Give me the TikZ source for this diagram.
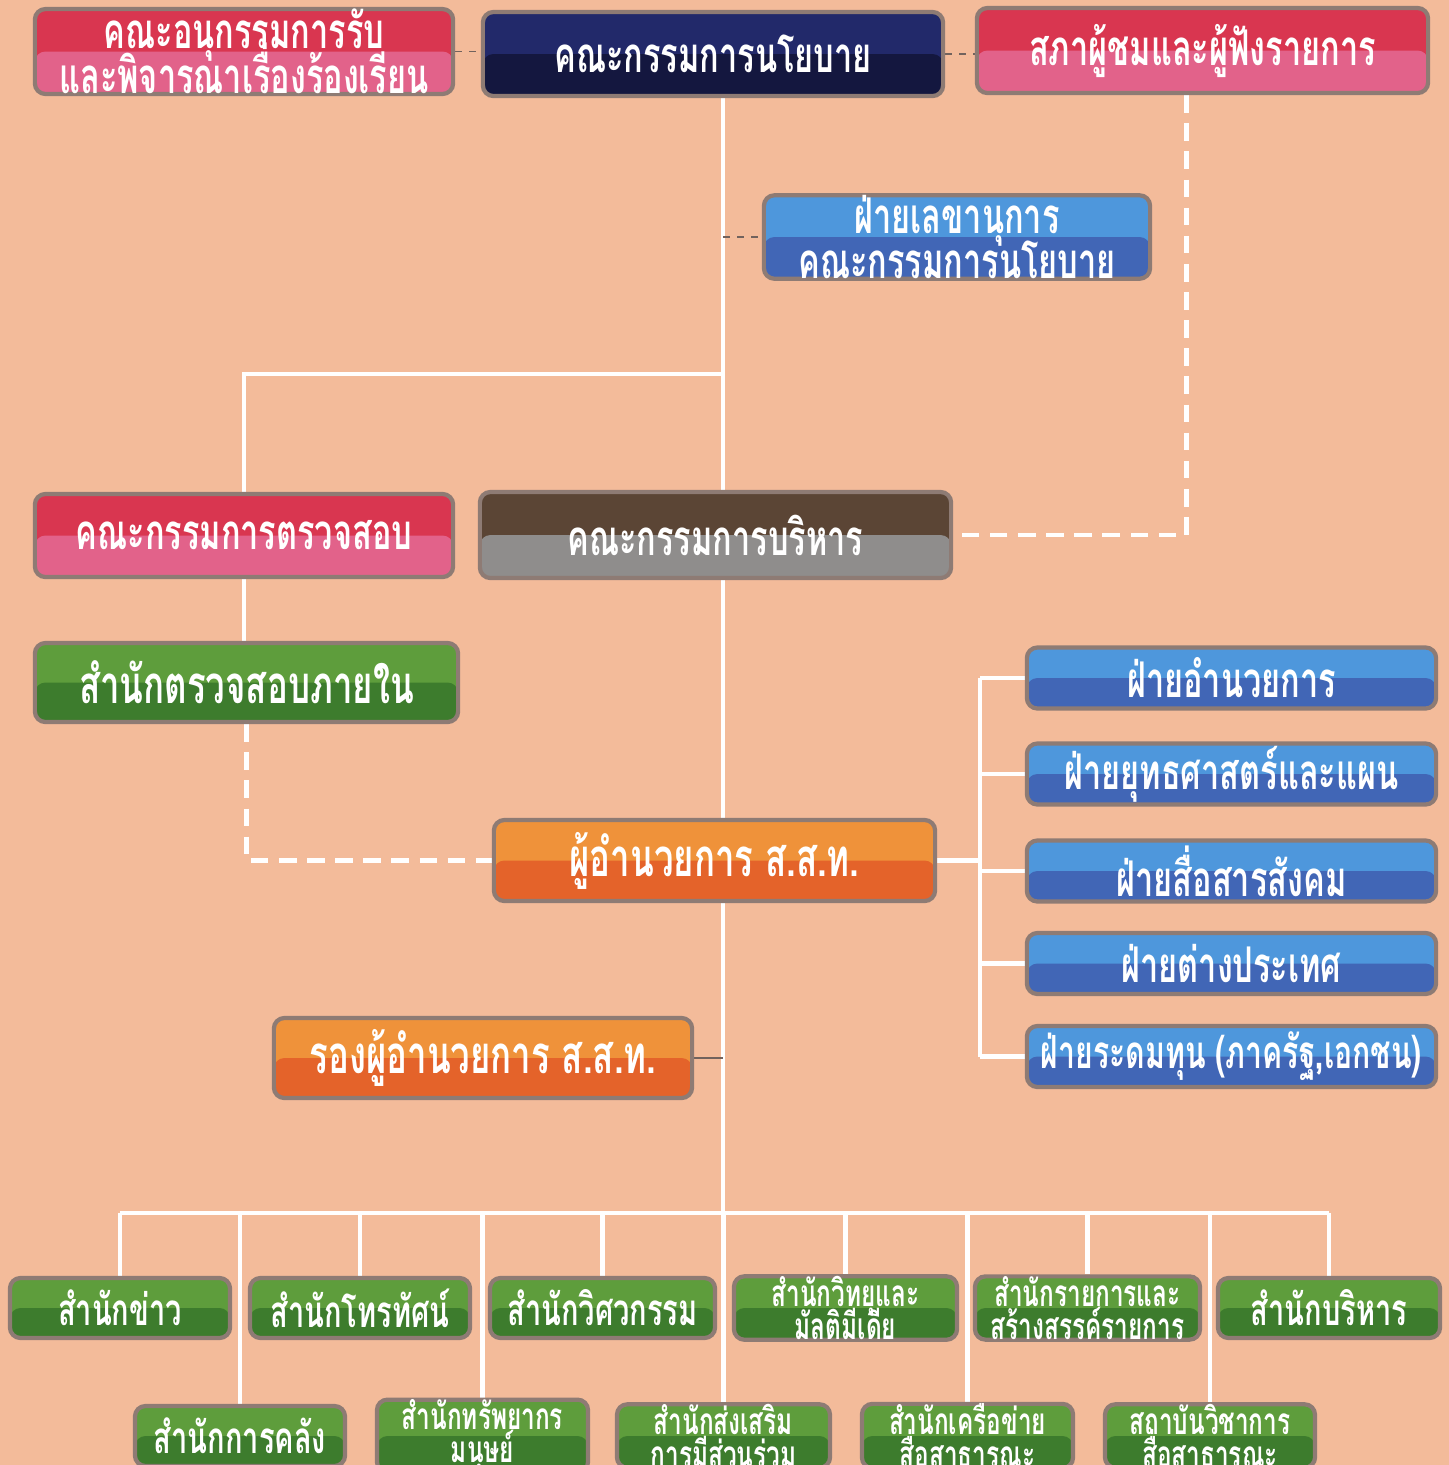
\documentclass[tikz,border=0pt]{standalone}
\usepackage{fontspec}
\newfontfamily\thaifont[Script=Thai, FakeStretch=0.66]{Loma}
\usetikzlibrary{backgrounds}
\setlength{\lineskiplimit}{-30pt}

\definecolor{fondo}{HTML}{F3BB9A}
\definecolor{rojoA}{HTML}{D93650}
\definecolor{rojoB}{HTML}{E2628A}
\definecolor{marinoA}{HTML}{22296A}
\definecolor{marinoB}{HTML}{14173F}
\definecolor{azulA}{HTML}{4E97DC}
\definecolor{azulB}{HTML}{4166B6}
\definecolor{cafeA}{HTML}{5B4535}
\definecolor{grisB}{HTML}{8F8D8C}
\definecolor{verdeA}{HTML}{5E9D3C}
\definecolor{verdeB}{HTML}{3D7C2D}
\definecolor{naranjaA}{HTML}{EF923A}
\definecolor{naranjaB}{HTML}{E4632A}
\definecolor{borde}{HTML}{8E7B74}

\tikzset{
  unidad/.style 2 args={draw=borde, line width=1.2pt, rounded corners=3pt, fill=#1,
    path picture={\fill[#2] (path picture bounding box.west) rectangle (path picture bounding box.south east);},
    text=white, align=center, inner sep=0pt, font=\thaifont\bfseries\fontsize{14}{12.8}\selectfont},
  rojo/.style={unidad={rojoA}{rojoB}},
  marino/.style={unidad={marinoA}{marinoB}},
  azul/.style={unidad={azulA}{azulB}},
  cafe/.style={unidad={cafeA}{grisB}},
  verde/.style={unidad={verdeA}{verdeB}},
  naranja/.style={unidad={naranjaA}{naranjaB}},
  grande/.style={font=\thaifont\bfseries\fontsize{15}{12}\selectfont},
  medio/.style={font=\thaifont\bfseries\fontsize{12.5}{10}\selectfont},
  chico/.style={font=\thaifont\bfseries\fontsize{10.5}{9.4}\selectfont},
  linea/.style={white, line width=1.4pt},
  lineapunt/.style={white, line width=1.4pt, dash pattern=on 5pt off 3pt},
  fina/.style={borde!80!black, line width=0.4pt},
  finapunt/.style={borde!80!black, line width=0.4pt, dash pattern=on 2pt off 2pt},
}

\begin{document}
\begin{tikzpicture}[x=0.01cm, y=-0.01cm]
\useasboundingbox (0,0) rectangle (1449,1465);
\begin{scope}[on background layer]
\fill[fondo] (0,0) rectangle (1449,1465);
\end{scope}

%Consejos
\node[rojo, minimum width=4.18cm, minimum height=0.83cm] (subcom) at (244,51.5) {คณะอนุกรรมการรับ\\และพิจารณาเรื่องร้องเรียน};
\node[marino, minimum width=4.6cm, minimum height=0.84cm] (politica) at (713,54) {คณะกรรมการนโยบาย};
\node[rojo, minimum width=4.51cm, minimum height=0.85cm] (consejo) at (1202.5,50.5) {สภาผู้ชมและผู้ฟังรายการ};
\node[azul, minimum width=3.86cm, minimum height=0.8cm] (secretaria) at (957,237) {ฝ่ายเลขานุการ\\คณะกรรมการนโยบาย};
\node[rojo, minimum width=4.18cm, minimum height=0.83cm] (auditoria) at (244,535.5) {คณะกรรมการตรวจสอบ};
\node[cafe, minimum width=4.71cm, minimum height=0.86cm] (ejecutivo) at (715.5,535) {คณะกรรมการบริหาร};
\node[verde, grande, minimum width=4.23cm, minimum height=0.79cm] (interna) at (246.5,682.5) {สำนักตรวจสอบภายใน};

%Direccion
\node[naranja, grande, minimum width=4.41cm, minimum height=0.81cm] (director) at (714.5,860.5) {ผู้อำนวยการ ส.ส.ท.};
\node[naranja, grande, minimum width=4.18cm, minimum height=0.8cm] (adjunto) at (483,1058) {รองผู้อำนวยการ ส.ส.ท.};

%Areas
\node[azul, minimum width=4.09cm, minimum height=0.61cm] (area1) at (1231.5,678) {ฝ่ายอำนวยการ};
\node[azul, minimum width=4.09cm, minimum height=0.61cm] (area2) at (1231.5,774) {ฝ่ายยุทธศาสตร์และแผน};
\node[azul, minimum width=4.09cm, minimum height=0.61cm] (area3) at (1231.5,871) {ฝ่ายสื่อสารสังคม};
\node[azul, minimum width=4.09cm, minimum height=0.61cm] (area4) at (1231.5,963.5) {ฝ่ายต่างประเทศ};
\node[azul, font=\thaifont\bfseries\fontsize{13}{12}\selectfont, minimum width=4.09cm, minimum height=0.61cm] (area5) at (1231.5,1056.5) {ฝ่ายระดมทุน (ภาครัฐ,เอกชน)};

%Oficinas
\node[verde, medio, minimum width=2.2cm, minimum height=0.6cm] (of1) at (120,1308) {สำนักข่าว};
\node[verde, medio, minimum width=2.2cm, minimum height=0.6cm] (of2) at (360,1308) {สำนักโทรทัศน์};
\node[verde, medio, minimum width=2.25cm, minimum height=0.6cm] (of3) at (602.5,1308) {สำนักวิศวกรรม};
\node[verde, chico, minimum width=2.23cm, minimum height=0.6cm] (of4) at (845.5,1308) {สำนักวิทยุและ\\มัลติมีเดีย};
\node[verde, chico, minimum width=2.25cm, minimum height=0.6cm] (of5) at (1087.5,1308) {สำนักรายการและ\\สร้างสรรค์รายการ};
\node[verde, medio, minimum width=2.22cm, minimum height=0.6cm] (of6) at (1329,1308) {สำนักบริหาร};
\node[verde, medio, minimum width=2.1cm, minimum height=0.6cm] (of7) at (240,1436) {สำนักการคลัง};
\node[verde, chico, minimum width=2.11cm, minimum height=0.6cm] (of8) at (482.5,1436) {สำนักทรัพยากร\\มนุษย์};
\node[verde, chico, minimum width=2.13cm, minimum height=0.6cm] (of9) at (723.5,1436) {สำนักส่งเสริม\\การมีส่วนร่วม};
\node[verde, chico, minimum width=2.11cm, minimum height=0.6cm] (of10) at (967.5,1436) {สำนักเครือข่าย\\สื่อสาธารณะ};
\node[verde, chico, minimum width=2.1cm, minimum height=0.6cm] (of11) at (1210,1436) {สถาบันวิชาการ\\สื่อสาธารณะ};

%Lineas
\coordinate (tronco) at (723,374);
\coordinate (rama) at (980,873);
\coordinate (bus) at (723,1213);
\begin{scope}[on background layer]
\draw[linea] (politica.south -| tronco) -- (ejecutivo.north -| tronco);
\draw[linea] (tronco) -| (auditoria.north);
\draw[finapunt] (secretaria.west -| tronco) -- (secretaria.west);
\draw[finapunt] (subcom.east) -- (subcom.east -| politica.west);
\draw[finapunt] (politica.east) -- (politica.east -| consejo.west);
\draw[lineapunt] ([xshift=-0.16cm]consejo.south) |- (ejecutivo.east);
\draw[linea] (auditoria.south) -- (auditoria.south |- interna.north);
\draw[lineapunt] (interna.south) |- (director.west);
\draw[linea] (ejecutivo.south -| tronco) -- (director.north -| tronco);
\draw[linea] (director.south -| tronco) -- (bus);
\draw[fina] (adjunto.east) -- (adjunto.east -| tronco);

\draw[linea] (director.east) -- (director.east -| rama);
\draw[linea] (area1.west -| rama) -- (area5.west -| rama);
\draw[linea] (area1.west -| rama) -- (area1.west);
\draw[linea] (area2.west -| rama) -- (area2.west);
\draw[linea] (area3.west -| rama) -- (area3.west);
\draw[linea] (area4.west -| rama) -- (area4.west);
\draw[linea] (area5.west -| rama) -- (area5.west);

\draw[linea] (of1.north |- bus) -- (of6.north |- bus);
\draw[linea] (of1.north |- bus) -- (of1.north);
\draw[linea] (of2.north |- bus) -- (of2.north);
\draw[linea] (of3.north |- bus) -- (of3.north);
\draw[linea] (of4.north |- bus) -- (of4.north);
\draw[linea] (of5.north |- bus) -- (of5.north);
\draw[linea] (of6.north |- bus) -- (of6.north);
\draw[linea] (of7.north |- bus) -- (of7.north);
\draw[linea] (of8.north |- bus) -- (of8.north);
\draw[linea] (of9.north |- bus) -- (of9.north);
\draw[linea] (of10.north |- bus) -- (of10.north);
\draw[linea] (of11.north |- bus) -- (of11.north);
\end{scope}
\end{tikzpicture}
\end{document}
